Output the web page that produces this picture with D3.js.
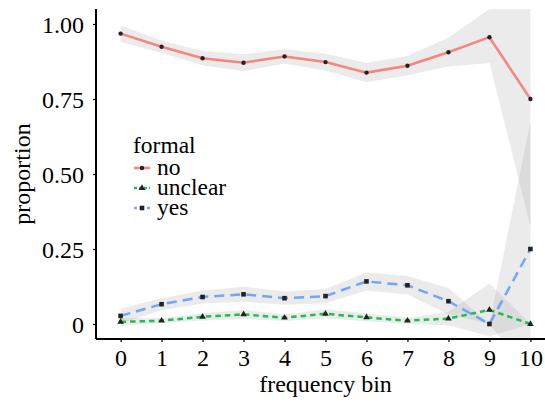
<!DOCTYPE html>
<html lang="en">
<head>
<meta charset="utf-8">
<title>Proportion by frequency bin</title>
<script src="https://cdnjs.cloudflare.com/ajax/libs/d3/7.8.5/d3.min.js"></script>
<style>
  body { margin: 0; background: #fff; }
  svg text { font-family: "Liberation Serif", "DejaVu Serif", serif; fill: #000; }
</style>
</head>
<body>
<svg id="chart" width="545" height="404"></svg>
<script>
// frequency bins on the x axis
var bins = [0, 1, 2, 3, 4, 5, 6, 7, 8, 9, 10];

// proportion of each "formal" level per bin, with the grey ribbon bounds
var noVals   = [0.968, 0.924, 0.886, 0.871, 0.892, 0.873, 0.838, 0.861, 0.906, 0.956, 0.750];
var noLow    = [0.941, 0.903, 0.862, 0.843, 0.868, 0.845, 0.806, 0.829, 0.858, 0.870, 0.326];
var noHigh   = [0.995, 0.945, 0.910, 0.899, 0.916, 0.901, 0.870, 0.893, 0.954, 1.050, 1.174];

var unclearVals = [0.007, 0.011, 0.024, 0.032, 0.021, 0.034, 0.022, 0.011, 0.018, 0.047, 0.000];
var unclearLow  = [-0.006, 0.003, 0.012, 0.017, 0.010, 0.019, 0.009, 0.001, -0.004, -0.041, 0.000];
var unclearHigh = [0.020, 0.019, 0.036, 0.047, 0.032, 0.049, 0.035, 0.021, 0.040, 0.135, 0.000];

var yesVals = [0.027, 0.066, 0.090, 0.099, 0.086, 0.093, 0.142, 0.129, 0.076, 0.000, 0.250];
var yesLow  = [0.002, 0.046, 0.068, 0.074, 0.064, 0.069, 0.112, 0.098, 0.032, 0.000, -0.174];
var yesHigh = [0.052, 0.086, 0.112, 0.124, 0.108, 0.117, 0.172, 0.160, 0.120, 0.000, 0.674];

var yTicks = [0, 0.25, 0.5, 0.75, 1];

var series = [
  { name: "no",      vals: noVals,      low: noLow,      high: noHigh,      color: "#F8766D", dash: null,    shape: d3.symbolCircle,   size: 15 },
  { name: "unclear", vals: unclearVals, low: unclearLow, high: unclearHigh, color: "#00BA38", dash: "5.5,4", shape: d3.symbolTriangle, size: 19 },
  { name: "yes",     vals: yesVals,     low: yesLow,     high: yesHigh,     color: "#619CFF", dash: "10,6",  shape: d3.symbolSquare,   size: 21 }
];

var svg = d3.select("#chart");
var pLeft = 96, pRight = 555, pTop = 9, pBottom = 339;

var x = d3.scaleLinear().domain([-0.6, 10.6]).range([pLeft, pRight]);
var y = d3.scaleLinear().domain([-0.05, 1.05]).range([pBottom, pTop]);

svg.append("clipPath").attr("id", "panel")
  .append("rect").attr("x", pLeft).attr("y", pTop)
  .attr("width", pRight - pLeft).attr("height", pBottom - pTop);

var plot = svg.append("g").attr("clip-path", "url(#panel)");

// ribbons first, then lines, then points
var area = d3.area()
  .x(function(d) { return x(d.bin); })
  .y0(function(d) { return y(d.low); })
  .y1(function(d) { return y(d.high); });

var line = d3.line()
  .x(function(d) { return x(d.bin); })
  .y(function(d) { return y(d.val); });

series.forEach(function(s) {
  s.rows = bins.map(function(b, i) {
    return { bin: b, val: s.vals[i], low: s.low[i], high: s.high[i] };
  });
});

plot.selectAll("path.ribbon").data(series).enter().append("path")
  .attr("class", "ribbon")
  .attr("d", function(s) { return area(s.rows); })
  .attr("fill", "#999999")
  .attr("fill-opacity", 0.2);

plot.selectAll("path.line").data(series).enter().append("path")
  .attr("class", "line")
  .attr("d", function(s) { return line(s.rows); })
  .attr("fill", "none")
  .attr("stroke", function(s) { return s.color; })
  .attr("stroke-opacity", 0.88)
  .attr("stroke-width", 2.5)
  .attr("stroke-dasharray", function(s) { return s.dash; });

series.forEach(function(s) {
  plot.selectAll(null).data(s.rows).enter().append("path")
    .attr("transform", function(d) { return "translate(" + x(d.bin) + "," + y(d.val) + ")"; })
    .attr("d", d3.symbol().type(s.shape).size(s.size))
    .attr("fill", "#222");
});

// axes
var yAxis = svg.append("g").attr("transform", "translate(" + pLeft + ",0)")
  .call(d3.axisLeft(y).tickValues(yTicks)
    .tickFormat(function(d) { return d === 0 ? "0" : d3.format(".2f")(d); })
    .tickSize(3).tickSizeOuter(0).tickPadding(9));

var xAxis = svg.append("g").attr("transform", "translate(0," + pBottom + ")")
  .call(d3.axisBottom(x).tickValues(bins).tickFormat(d3.format("d"))
    .tickSize(3).tickSizeOuter(0));

[xAxis, yAxis].forEach(function(g) {
  g.attr("font-family", null).attr("font-size", null);
  g.select(".domain").attr("stroke", "#000").attr("stroke-width", 2);
  g.selectAll(".tick line").attr("stroke", "#000").attr("stroke-width", 1.2);
  g.selectAll(".tick text").style("font-size", "24px");
});
yAxis.select(".domain").attr("d", "M0," + pTop + "V" + pBottom);
xAxis.select(".domain").attr("d", "M" + pLeft + ",0H545");
yAxis.selectAll(".tick text").attr("dy", "0.34em");
xAxis.selectAll(".tick text").attr("dy", null).attr("y", 27);

// axis titles
svg.append("text")
  .attr("x", (pLeft + pRight) / 2).attr("y", 392)
  .attr("text-anchor", "middle").style("font-size", "24px")
  .text("frequency bin");

svg.append("text")
  .attr("transform", "translate(30," + (pTop + pBottom) / 2 + ") rotate(-90)")
  .attr("text-anchor", "middle").style("font-size", "24px")
  .text("proportion");

// legend
var legend = svg.append("g");
legend.append("text").attr("x", 133).attr("y", 153)
  .style("font-size", "23.5px").text("formal");

var keys = legend.selectAll("g.key").data(series).enter().append("g")
  .attr("class", "key")
  .attr("transform", function(s, i) { return "translate(0," + (168 + i * 20) + ")"; });

keys.append("line")
  .attr("x1", 134).attr("x2", 150)
  .attr("stroke", function(s) { return s.color; })
  .attr("stroke-opacity", 0.88)
  .attr("stroke-width", 2.5)
  .attr("stroke-dasharray", function(s) { return s.dash ? (s.name === "yes" ? "3,10" : "3,2") : null; });

keys.append("path")
  .attr("transform", "translate(142,0)")
  .attr("d", function(s) { return d3.symbol().type(s.shape).size(s.size)(); })
  .attr("fill", "#222");

keys.append("text")
  .attr("x", 157).attr("y", 6.5)
  .style("font-size", "23.5px")
  .text(function(s) { return s.name; });
</script>
</body>
</html>
